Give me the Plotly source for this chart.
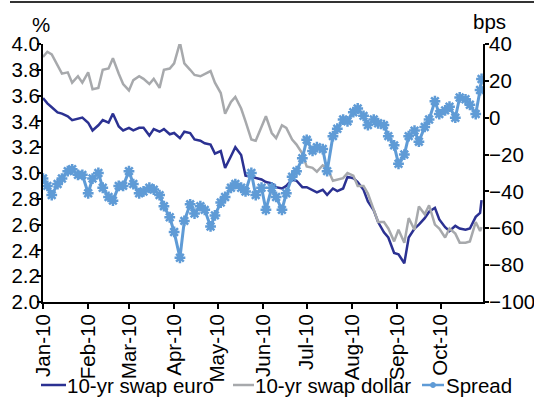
import plotly.graph_objects as go

dates = [
    "2010-01-01", "2010-01-04", "2010-01-07", "2010-01-11", "2010-01-14", "2010-01-18", "2010-01-21", "2010-01-25", "2010-01-28",
    "2010-02-01", "2010-02-04", "2010-02-08", "2010-02-11", "2010-02-15", "2010-02-18", "2010-02-22", "2010-02-25",
    "2010-03-01", "2010-03-04", "2010-03-08", "2010-03-11", "2010-03-15", "2010-03-18", "2010-03-22", "2010-03-25", "2010-03-29",
    "2010-04-01", "2010-04-05", "2010-04-08", "2010-04-12", "2010-04-15", "2010-04-19", "2010-04-22", "2010-04-26", "2010-04-29",
    "2010-05-03", "2010-05-06", "2010-05-10", "2010-05-13", "2010-05-17", "2010-05-20", "2010-05-24", "2010-05-27", "2010-05-31",
    "2010-06-03", "2010-06-07", "2010-06-10", "2010-06-14", "2010-06-17", "2010-06-21", "2010-06-24", "2010-06-28",
    "2010-07-01", "2010-07-05", "2010-07-08", "2010-07-12", "2010-07-15", "2010-07-19", "2010-07-22", "2010-07-26", "2010-07-29",
    "2010-08-02", "2010-08-05", "2010-08-09", "2010-08-12", "2010-08-16", "2010-08-19", "2010-08-23", "2010-08-26", "2010-08-30",
    "2010-09-02", "2010-09-06", "2010-09-09", "2010-09-13", "2010-09-16", "2010-09-20", "2010-09-23", "2010-09-27", "2010-09-30",
    "2010-10-04", "2010-10-07", "2010-10-11", "2010-10-14", "2010-10-18", "2010-10-21", "2010-10-25", "2010-10-28", "2010-10-29",
]

swap_euro = [
    3.58, 3.54, 3.51, 3.47, 3.46, 3.44, 3.41, 3.42, 3.43,
    3.39, 3.33, 3.37, 3.41, 3.39, 3.46, 3.36, 3.33,
    3.35, 3.33, 3.35, 3.35, 3.29, 3.34, 3.32, 3.34, 3.30,
    3.31, 3.27, 3.32, 3.31, 3.26, 3.25, 3.23, 3.22, 3.15,
    3.17, 3.04, 3.13, 3.20, 3.14, 2.98, 2.97, 2.96, 2.95,
    2.93, 2.92, 2.89, 2.88, 2.90, 2.95, 2.94, 2.89,
    2.89, 2.87, 2.85, 2.87, 2.83, 2.88, 2.86, 2.88, 2.97,
    2.96, 2.93, 2.87, 2.78, 2.71, 2.62, 2.54, 2.50, 2.38,
    2.37, 2.30, 2.50, 2.57, 2.60, 2.65, 2.70, 2.73, 2.64,
    2.58, 2.55, 2.59, 2.57, 2.56, 2.57, 2.66, 2.69, 2.79,
]

swap_dollar = [
    3.90, 3.94, 3.92, 3.84, 3.77, 3.78, 3.70, 3.75, 3.70,
    3.78, 3.65, 3.66, 3.80, 3.81, 3.89, 3.77, 3.69,
    3.64, 3.72, 3.75, 3.73, 3.69, 3.73, 3.66, 3.80, 3.81,
    3.85, 4.01, 3.85, 3.80, 3.76, 3.75, 3.77, 3.79, 3.70,
    3.62, 3.46, 3.55, 3.59, 3.50, 3.40, 3.26, 3.25, 3.36,
    3.44, 3.31, 3.27, 3.37, 3.35, 3.26, 3.22, 3.15,
    3.05, 3.04, 3.01, 3.06, 3.04, 2.94, 2.95, 2.96, 3.00,
    2.98, 2.90, 2.90, 2.84, 2.71, 2.62, 2.62, 2.57, 2.47,
    2.56, 2.46, 2.65, 2.56, 2.74, 2.68, 2.75, 2.60, 2.57,
    2.50, 2.57, 2.53, 2.46, 2.46, 2.47, 2.62, 2.55, 2.58,
]

spread_bps = [
    -33, -37, -42, -36, -33, -29, -28, -31, -31,
    -41, -33, -30, -38, -43, -45, -37, -37,
    -29, -36, -41, -40, -38, -39, -42, -48, -54,
    -62, -76, -56, -47, -52, -48, -50, -59, -53,
    -46, -43, -38, -36, -38, -40, -30, -42, -38,
    -50, -38, -43, -50, -41, -32, -29, -22,
    -12, -18, -16, -17, -29, -10, -6, -1, -2,
    3, 5, 1, -4, -1, -3, -4, -10, -15,
    -25, -20, -10, -7, -13, -5, -1, 9, 2,
    4, 6, 0, 11, 10, 7, 2, 15, 21,
]

series_names = ["10-yr swap euro", "10-yr swap dollar", "Spread"]

FONT = "Liberation Sans, Arial, sans-serif"
FS = 20.5
EURO_C = "#2B3192"
DOLLAR_C = "#A7A9AC"
SPREAD_C = "#5F9BD6"

fig = go.Figure()
fig.add_trace(go.Scatter(x=dates, y=swap_euro, name=series_names[0], mode="lines",
                         line=dict(color=EURO_C, width=2.5)))
fig.add_trace(go.Scatter(x=dates, y=swap_dollar, name=series_names[1], mode="lines",
                         line=dict(color=DOLLAR_C, width=2.5)))
fig.add_trace(go.Scatter(x=dates, y=spread_bps, name=series_names[2], mode="lines+markers", yaxis="y2",
                         line=dict(color=SPREAD_C, width=3),
                         marker=dict(symbol="asterisk", size=9, color=SPREAD_C,
                                     line=dict(color=SPREAD_C, width=2.5))))

axis_common = dict(showgrid=False, zeroline=False, showline=True, linecolor="black", linewidth=2,
                   ticks="outside", tickwidth=1.5, tickcolor="black", automargin=False,
                   tickfont=dict(size=FS))

# hand-placed legend (paper coordinates: x=(px-43)/440, y=(302-py)/258)
LEG_Y = (302 - 385) / 258
leg_items = [  # (line start px, line end px, text start px, colour)
    (41, 66, 67, EURO_C),
    (233, 254, 255, DOLLAR_C),
    (422, 444, 446, SPREAD_C),
]
shapes = [
    dict(type="line", xref="paper", yref="paper", x0=(10 - 43) / 440, x1=(534 - 43) / 440,
         y0=(302 - 2) / 258, y1=(302 - 2) / 258,
         line=dict(color="#333333", width=2)),
]
annotations = [
    dict(text="%", xref="paper", yref="paper", x=(41 - 43) / 440, y=(302 - 24) / 258,
         xanchor="center", yanchor="middle", showarrow=False, font=dict(size=FS)),
    dict(text="bps", xref="paper", yref="paper", x=(489 - 43) / 440, y=(302 - 21) / 258,
         xanchor="center", yanchor="middle", showarrow=False, font=dict(size=FS)),
]
for (l0, l1, t0, col), name in zip(leg_items, series_names):
    shapes.append(dict(type="line", xref="paper", yref="paper",
                       x0=(l0 - 43) / 440, x1=(l1 - 43) / 440, y0=LEG_Y, y1=LEG_Y,
                       line=dict(color=col, width=2.5)))
    annotations.append(dict(text=name, xref="paper", yref="paper", x=(t0 - 43) / 440, y=LEG_Y,
                            xanchor="left", yanchor="middle", showarrow=False,
                            font=dict(size=FS), xshift=-2))
# small marker on the Spread legend line
mx = ((422 + 444) / 2 - 43) / 440
shapes.append(dict(type="circle", xref="paper", yref="paper",
                   x0=mx - 2.5 / 440, x1=mx + 2.5 / 440, y0=LEG_Y - 2.5 / 258, y1=LEG_Y + 2.5 / 258,
                   fillcolor=SPREAD_C, line=dict(color=SPREAD_C, width=1)))

fig.update_layout(
    width=534, height=410,
    margin=dict(l=43, r=51, t=44, b=108, autoexpand=False),
    paper_bgcolor="white", plot_bgcolor="white",
    font=dict(family=FONT, size=FS, color="black"),
    showlegend=False,
    xaxis=dict(type="date", range=["2010-01-01", "2010-10-30"],
               tick0="2010-01-01", dtick="M1", tickformat="%b-%y", tickangle=-90,
               ticklen=5, ticklabelstandoff=-3, **axis_common),
    yaxis=dict(range=[2.0, 4.0], dtick=0.2, tickformat=".1f", ticklen=4,
               ticklabelstandoff=-7, **axis_common),
    yaxis2=dict(range=[-100, 40], dtick=20, overlaying="y", side="right", ticklen=4,
                ticklabelstandoff=-4, **axis_common),
    annotations=annotations,
    shapes=shapes,
)

fig.write_html("out.html", config={"displayModeBar": False},
               post_script="document.body.style.margin='0';document.body.style.padding='0';")
